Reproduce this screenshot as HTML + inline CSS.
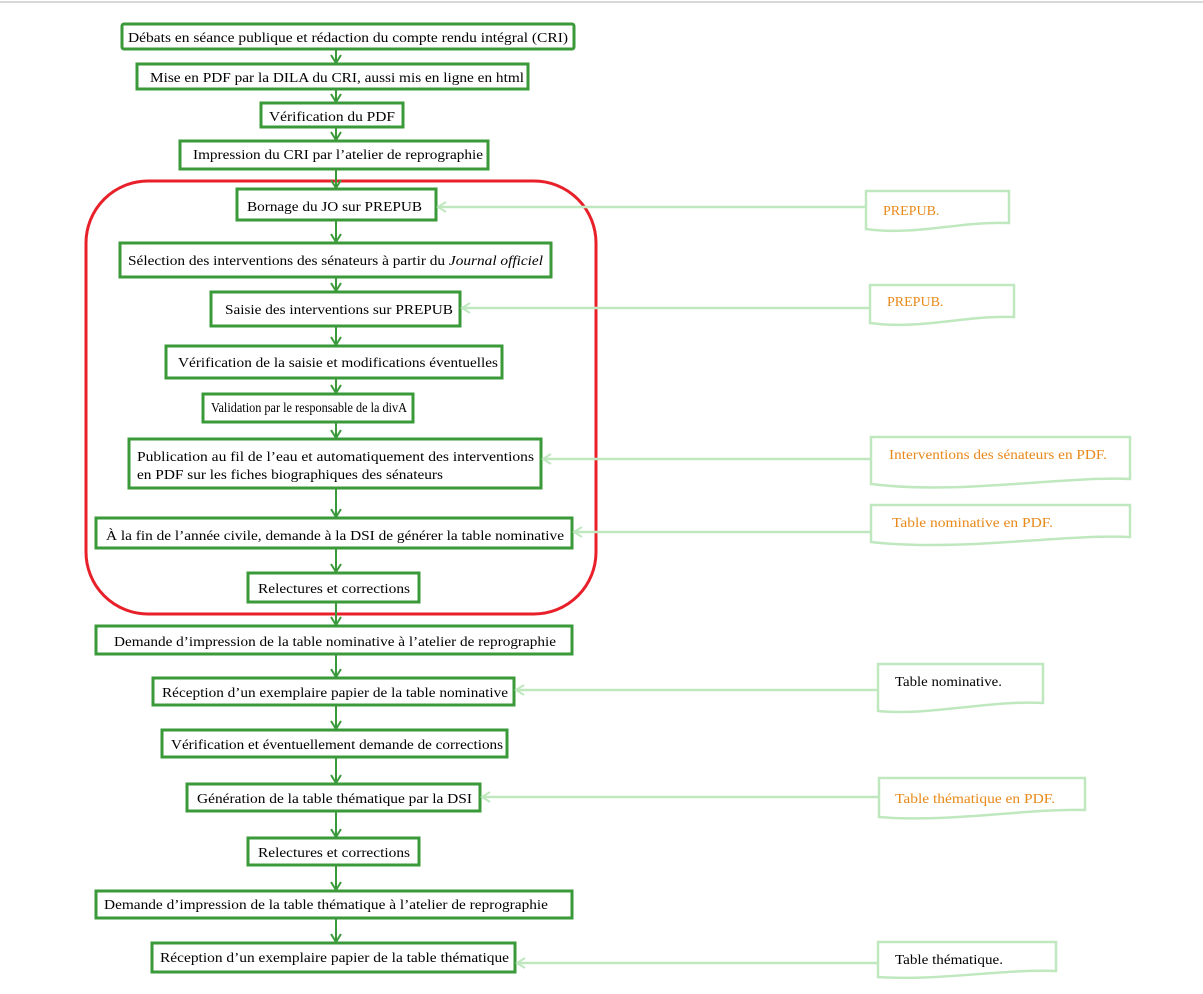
<!DOCTYPE html>
<html><head><meta charset="utf-8"><style>
html,body{margin:0;padding:0;background:#fff;}
svg{display:block;}
text{font-family:"Liberation Serif",serif;font-size:14px;fill:#000;}
.o{fill:#e8891a;}
</style></head><body>
<svg width="1203" height="994" viewBox="0 0 1203 994" xmlns="http://www.w3.org/2000/svg">
<defs>
<marker id="ag" markerWidth="12" markerHeight="12" refX="9" refY="6" orient="auto" markerUnits="userSpaceOnUse"><path d="M1,1 L9,6 L1,11" fill="none" stroke="#3a9a3a" stroke-width="2"/></marker>
<marker id="al" markerWidth="12" markerHeight="12" refX="9" refY="6" orient="auto" markerUnits="userSpaceOnUse"><path d="M1,1 L9,6 L1,11" fill="none" stroke="#bfe8bf" stroke-width="2"/></marker>
</defs>
<line x1="0" y1="2" x2="1203" y2="2" stroke="#d8d8d8" stroke-width="2"/>
<rect x="86" y="181" width="510" height="433" rx="62" fill="none" stroke="#e8202a" stroke-width="3"/>
<g stroke="#3a9a3a" stroke-width="2" fill="none" marker-end="url(#ag)">
<line x1="336" y1="49" x2="336" y2="63"/>
<line x1="336" y1="89" x2="336" y2="102"/>
<line x1="336" y1="127" x2="336" y2="140"/>
<line x1="336" y1="169" x2="336" y2="188"/>
<line x1="336" y1="220" x2="336" y2="242"/>
<line x1="336" y1="277" x2="336" y2="291"/>
<line x1="336" y1="326" x2="336" y2="345"/>
<line x1="336" y1="378" x2="336" y2="393"/>
<line x1="336" y1="422" x2="336" y2="438"/>
<line x1="336" y1="488" x2="336" y2="517"/>
<line x1="336" y1="548" x2="336" y2="572"/>
<line x1="336" y1="602" x2="336" y2="625"/>
<line x1="336" y1="654" x2="336" y2="677"/>
<line x1="336" y1="705" x2="336" y2="729"/>
<line x1="336" y1="757" x2="336" y2="783"/>
<line x1="336" y1="811" x2="336" y2="837"/>
<line x1="336" y1="865" x2="336" y2="890"/>
<line x1="336" y1="918" x2="336" y2="942"/>
</g>
<g fill="#fff" stroke="#3a9a3a" stroke-width="3">
<rect x="122" y="24" width="452" height="25" rx="2"/>
<rect x="137" y="64" width="391" height="25"/>
<rect x="261" y="103" width="142" height="24"/>
<rect x="180" y="141" width="308" height="28"/>
<rect x="237" y="189" width="199" height="31"/>
<rect x="120" y="243" width="431" height="34"/>
<rect x="211" y="292" width="249" height="34"/>
<rect x="166" y="346" width="336" height="32"/>
<rect x="203" y="394" width="210" height="28"/>
<rect x="129" y="439" width="412" height="49"/>
<rect x="96" y="518" width="476" height="30"/>
<rect x="248" y="573" width="171" height="29"/>
<rect x="96" y="626" width="476" height="28"/>
<rect x="153" y="678" width="361" height="27"/>
<rect x="162" y="730" width="345" height="27"/>
<rect x="187" y="784" width="293" height="27"/>
<rect x="248" y="838" width="171" height="27"/>
<rect x="96" y="891" width="476" height="27"/>
<rect x="152" y="943" width="363" height="29"/>
</g>
<g lengthAdjust="spacingAndGlyphs">
<text x="128" y="42" textLength="440" lengthAdjust="spacingAndGlyphs">Débats en séance publique et rédaction du compte rendu intégral (CRI)</text>
<text x="150" y="82" textLength="374" lengthAdjust="spacingAndGlyphs">Mise en PDF par la DILA du CRI, aussi mis en ligne en html</text>
<text x="269" y="121" textLength="126" lengthAdjust="spacingAndGlyphs">Vérification du PDF</text>
<text x="193" y="159" textLength="290" lengthAdjust="spacingAndGlyphs">Impression du CRI par l’atelier de reprographie</text>
<text x="247" y="211" textLength="175" lengthAdjust="spacingAndGlyphs">Bornage du JO sur PREPUB</text>
<text x="128" y="265" textLength="415" lengthAdjust="spacingAndGlyphs">Sélection des interventions des sénateurs à partir du <tspan font-style="italic">Journal officiel</tspan></text>
<text x="225" y="314" textLength="228" lengthAdjust="spacingAndGlyphs">Saisie des interventions sur PREPUB</text>
<text x="178" y="367" textLength="320" lengthAdjust="spacingAndGlyphs">Vérification de la saisie et modifications éventuelles</text>
<text x="211" y="412" textLength="196" lengthAdjust="spacingAndGlyphs">Validation par le responsable de la divA</text>
<text x="137" y="461" textLength="397" lengthAdjust="spacingAndGlyphs">Publication au fil de l’eau et automatiquement des interventions</text>
<text x="137" y="479" textLength="306" lengthAdjust="spacingAndGlyphs">en PDF sur les fiches biographiques des sénateurs</text>
<text x="106" y="540" textLength="458" lengthAdjust="spacingAndGlyphs">À la fin de l’année civile, demande à la DSI de générer la table nominative</text>
<text x="258" y="593" textLength="152" lengthAdjust="spacingAndGlyphs">Relectures et corrections</text>
<text x="114" y="646" textLength="442" lengthAdjust="spacingAndGlyphs">Demande d’impression de la table nominative à l’atelier de reprographie</text>
<text x="162" y="697" textLength="346" lengthAdjust="spacingAndGlyphs">Réception d’un exemplaire papier de la table nominative</text>
<text x="171" y="749" textLength="332" lengthAdjust="spacingAndGlyphs">Vérification et éventuellement demande de corrections</text>
<text x="197" y="803" textLength="275" lengthAdjust="spacingAndGlyphs">Génération de la table thématique par la DSI</text>
<text x="258" y="857" textLength="152" lengthAdjust="spacingAndGlyphs">Relectures et corrections</text>
<text x="104" y="909" textLength="444" lengthAdjust="spacingAndGlyphs">Demande d’impression de la table thématique à l’atelier de reprographie</text>
<text x="160" y="962" textLength="349" lengthAdjust="spacingAndGlyphs">Réception d’un exemplaire papier de la table thématique</text>
</g>
<g stroke="#bfe8bf" stroke-width="2.5" fill="none">
<line x1="866" y1="207" x2="438" y2="207" marker-end="url(#al)"/>
<line x1="870" y1="308" x2="462" y2="308" marker-end="url(#al)"/>
<line x1="871" y1="459" x2="543" y2="459" marker-end="url(#al)"/>
<line x1="871" y1="532" x2="574" y2="532" marker-end="url(#al)"/>
<line x1="878" y1="690" x2="516" y2="690" marker-end="url(#al)"/>
<line x1="879" y1="797" x2="482" y2="797" marker-end="url(#al)"/>
<line x1="878" y1="963" x2="517" y2="963" marker-end="url(#al)"/>
<path d="M866,191 H1009 V223 C960,221 915,236 866,229 Z" fill="#fff"/>
<path d="M870,285 H1014 V317 C965,315 920,330 870,323 Z" fill="#fff"/>
<path d="M871,437 H1130 V479 C1060,476 960,495 871,484 Z" fill="#fff"/>
<path d="M871,505 H1130 V537 C1060,534 960,552 871,542 Z" fill="#fff"/>
<path d="M878,664 H1043 V703 C990,700 930,716 878,711 Z" fill="#fff"/>
<path d="M879,778 H1085 V810 C1030,808 950,823 879,817 Z" fill="#fff"/>
<path d="M878,942 H1056 V971 C1000,969 940,981 878,977 Z" fill="#fff"/>
</g>
<text class="o" x="883" y="215">PREPUB.</text>
<text class="o" x="887" y="306">PREPUB.</text>
<text class="o" x="889" y="459" textLength="218" lengthAdjust="spacingAndGlyphs">Interventions des sénateurs en PDF.</text>
<text class="o" x="892" y="527" textLength="161" lengthAdjust="spacingAndGlyphs">Table nominative en PDF.</text>
<text x="895" y="686" textLength="107" lengthAdjust="spacingAndGlyphs">Table nominative.</text>
<text class="o" x="895" y="803" textLength="160" lengthAdjust="spacingAndGlyphs">Table thématique en PDF.</text>
<text x="895" y="964" textLength="108" lengthAdjust="spacingAndGlyphs">Table thématique.</text>
</svg>
</body></html>
